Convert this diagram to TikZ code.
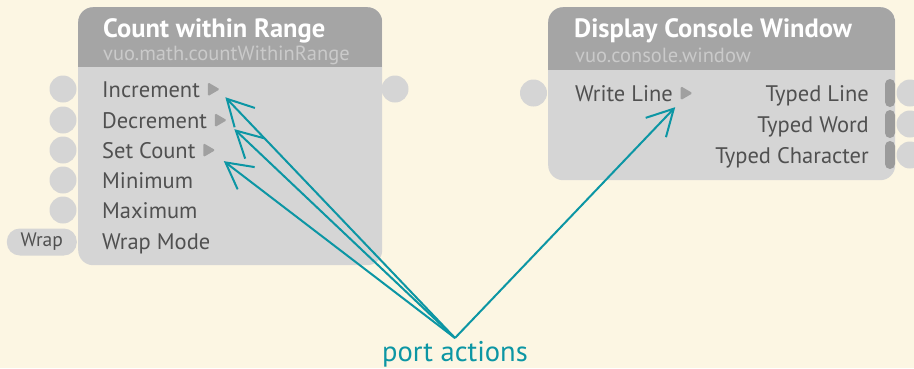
\documentclass[tikz,border=0pt]{standalone}
\usepackage{fontspec}
\setmainfont{PT Sans}
\usetikzlibrary{arrows.meta,positioning,calc,shapes.geometric}
\definecolor{cBack}{RGB}{252,246,227}
\definecolor{cHead}{RGB}{165,165,165}
\definecolor{cBody}{RGB}{213,213,213}
\definecolor{cSub}{RGB}{202,202,202}
\definecolor{cPort}{RGB}{80,80,80}
\definecolor{cTri}{RGB}{160,160,160}
\definecolor{cBar}{RGB}{155,155,155}
\definecolor{cTeal}{RGB}{12,150,164}
\tikzset{
  body/.style={fill=cBody, rounded corners=15pt, anchor=north west, inner sep=0pt,
               path picture={\fill[cHead, sharp corners] (path picture bounding box.north west)
                 rectangle ([yshift=-#1]path picture bounding box.north east);}},
  title/.style={anchor=base west, inner sep=0pt, text=white,
                font=\fontsize{26.5}{26.5}\selectfont\bfseries},
  sub/.style={anchor=base west, inner sep=0pt, text=cSub,
              font=\fontsize{20.5}{20.5}\selectfont},
  port/.style={anchor=base west, inner sep=0pt, text=cPort,
               font=\fontsize{22.5}{22.5}\selectfont},
  portr/.style={port, anchor=base east},
  dot/.style={circle, fill=cBody, minimum size=27pt, inner sep=0pt},
  pill/.style={fill=cBody, rounded corners=13pt, minimum width=70pt, minimum height=27pt,
               inner sep=0pt, text=cPort, font=\fontsize{19.5}{19.5}\selectfont},
  tri/.style={isosceles triangle, isosceles triangle stretches, fill=cTri, inner sep=0pt,
              minimum width=14pt, minimum height=12pt, rounded corners=1.5pt},
  bar/.style={fill=cBar, rounded corners=5pt, minimum width=10pt, minimum height=28pt,
              inner sep=0pt},
  arr/.style={-{Straight Barb[length=26pt,width=28pt]}, cTeal, line width=2pt},
  lbl/.style={anchor=base, inner sep=0pt, text=cTeal, font=\fontsize{28.5}{28.5}\selectfont},
}
\begin{document}
\begin{tikzpicture}[x=1pt,y=-1pt]
  \fill[cBack] (0,0) rectangle (914,368);
  \useasboundingbox (0,0) rectangle (914,368);

  % count within range
  \node[body=60pt, minimum width=304pt, minimum height=258pt] (cwr) at (78,7) {};
  \node[title] (cwrT) at (103,37) {Count within Range};
  \node[sub] (cwrS) at (103,60) {vuo.math.countWithinRange};
  \node[port] (inc) at (102,97) {Increment};
  \node[port] (dec) at (102,128) {Decrement};
  \node[port] (set) at (102,158) {Set Count};
  \node[port] (min) at (102,188) {Minimum};
  \node[port] (max) at (102,218) {Maximum};
  \node[port] (wrap) at (102,249) {Wrap Mode};
  \node[tri, right=7.5pt of inc.east] (incT) {};
  \node[tri, right=7.5pt of dec.east] (decT) {};
  \node[tri, right=7.5pt of set.east] (setT) {};
  \node[dot] (incIn) at (63,89) {};
  \node[dot] (decIn) at (63,120) {};
  \node[dot] (setIn) at (63,150) {};
  \node[dot] (minIn) at (63,180) {};
  \node[dot] (maxIn) at (63,210) {};
  \node[pill, anchor=east] (wrapIn) at (77,242) {Wrap};
  \node[dot] (cwrOut) at (395,89) {};

  % display console window
  \node[body=63pt, minimum width=347pt, minimum height=173pt] (dcw) at (548,7) {};
  \node[title] (dcwT) at (574,37) {Display Console Window};
  \node[sub] (dcwS) at (575,62) {vuo.console.window};
  \node[port] (wl) at (575,101) {Write Line};
  \node[tri, right=7.5pt of wl.east] (wlT) {};
  \node[portr] (tl) at (869,101) {Typed Line};
  \node[portr] (tw) at (869,132) {Typed Word};
  \node[portr] (tc) at (869,163) {Typed Character};
  \node[dot] (wlIn) at (533.5,93) {};
  \node[bar] (tlB) at (890,93) {};
  \node[bar] (twB) at (890,124) {};
  \node[bar] (tcB) at (890,155) {};
  \node[dot] (tlOut) at (910,93) {};
  \node[dot] (twOut) at (910,124) {};
  \node[dot] (tcOut) at (910,155) {};

  % port actions
  \node[lbl] (pa) at (455,361) {port actions};
  \coordinate (hub) at ([yshift=23pt]pa.base);
  \draw[arr] (hub) -- ([xshift=5pt,yshift=-8pt]incT.east);
  \draw[arr] (hub) -- ([xshift=7pt,yshift=-9pt]decT.east);
  \draw[arr] (hub) -- ([xshift=8pt,yshift=-11pt]setT.east);
  \draw[arr] (hub) -- ([xshift=-18pt,yshift=-14pt]wlT.east);
\end{tikzpicture}
\end{document}
